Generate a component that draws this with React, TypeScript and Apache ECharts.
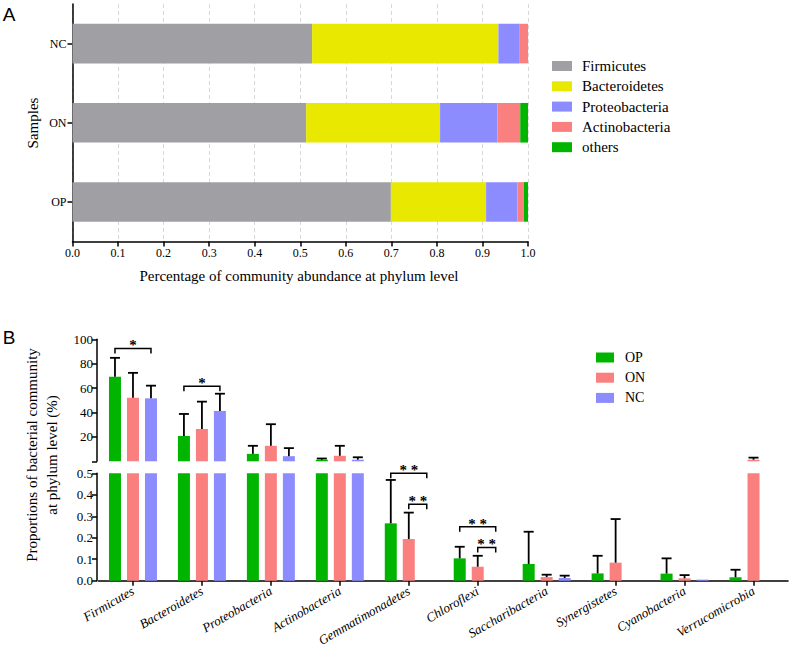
import React, { useEffect, useRef } from 'react';
import * as echarts from 'echarts';

// ---------- Panel A data ----------
const samplesA = ['OP', 'ON', 'NC']; // bottom to top
const phylaA = ['Firmicutes', 'Bacteroidetes', 'Proteobacteria', 'Actinobacteria', 'others'];
const firmicutesA = [0.699, 0.513, 0.526];
const bacteroidetesA = [0.209, 0.294, 0.409];
const proteobacteriaA = [0.069, 0.126, 0.047];
const actinobacteriaA = [0.014, 0.05, 0.018];
const othersA = [0.009, 0.017, 0.0];
const valuesA = [firmicutesA, bacteroidetesA, proteobacteriaA, actinobacteriaA, othersA];

// ---------- Panel B data (%) ----------
const phylaB = [
  'Firmicutes', 'Bacteroidetes', 'Proteobacteria', 'Actinobacteria', 'Gemmatimonadetes',
  'Chloroflexi', 'Saccharibacteria', 'Synergistetes', 'Cyanobacteria', 'Verrucomicrobia',
];
const groupsB = ['OP', 'ON', 'NC'];
const meanOP = [69.3, 20.8, 6.1, 1.3, 0.267, 0.104, 0.078, 0.034, 0.033, 0.016];
const sdOP = [15.5, 18.0, 6.6, 1.0, 0.202, 0.054, 0.15, 0.082, 0.071, 0.035];
const meanON = [52.1, 26.5, 12.7, 4.5, 0.194, 0.065, 0.017, 0.084, 0.011, 1.3];
const sdON = [20.4, 22.4, 17.7, 8.2, 0.123, 0.051, 0.011, 0.203, 0.015, 1.7];
const meanNC = [51.6, 41.3, 4.2, 1.3, 0, 0, 0.0125, 0, 0.005, 0];
const sdNC = [10.4, 14.1, 6.6, 2.0, 0, 0, 0.011, 0, 0, 0];
const meansB = [meanOP, meanON, meanNC];
const sdsB = [sdOP, sdON, sdNC];
const upperTicks = [0, 20, 40, 60, 80, 100];
const lowerTicks = [0, 0.1, 0.2, 0.3, 0.4, 0.5];
const BREAK = 0.5;

// significance annotations
const sigPhylum = [0, 1, 4, 4, 5, 5];
const sigFromGroup = [0, 0, 0, 1, 0, 1];
const sigToGroup = [2, 2, 2, 2, 2, 2];
const sigLevel = [92.5, 61.5, 0.5, 0.356, 0.251, 0.155];
const sigMark = ['*', '*', '* *', '* *', '* *', '* *'];

const colorsA = ['#a0a0a4', '#e8e800', '#8c8cff', '#fa8080', '#00b400'];
const colorsB = ['#00b400', '#fa8080', '#8c8cff'];
const SERIF = 'Liberation Serif, serif';
const SANS = 'Liberation Sans, sans-serif';
const BAR_W = 12;
const BAR_STEP = 18;

export default function App() {
  const ref = useRef<HTMLDivElement>(null);

  useEffect(() => {
    document.body.style.margin = '0';
    if (!ref.current) return;
    const chart = echarts.init(ref.current, null, { renderer: 'svg' });

    const axisLine = { show: true, lineStyle: { color: '#000', width: 1.5 } };
    const axisTick = { show: true, inside: false, length: 5, lineStyle: { color: '#000', width: 1.5 } };

    const series: any[] = [];

    // Panel A stacked bars
    phylaA.forEach((name, i) => {
      series.push({
        type: 'bar', name, stack: 'A', xAxisIndex: 0, yAxisIndex: 0,
        data: valuesA[i], barCategoryGap: '50%',
        itemStyle: { color: colorsA[i] },
      });
    });

    const errRender = (offset: number) => (params: any, api: any) => {
      const cat = api.value(0);
      const m = api.value(1);
      const s = api.value(2);
      const base = api.coord([cat, m]);
      const top = api.coord([cat, m + s]);
      const x = base[0] + offset;
      const st = { stroke: '#000', lineWidth: 1.8 };
      return {
        type: 'group',
        children: [
          { type: 'line', shape: { x1: x, y1: base[1], x2: x, y2: top[1] }, style: st },
          { type: 'line', shape: { x1: x - 5, y1: top[1], x2: x + 5, y2: top[1] }, style: st },
        ],
      };
    };

    groupsB.forEach((name, g) => {
      const means = meansB[g];
      const sds = sdsB[g];
      const offset = (g - 1) * BAR_STEP;
      series.push({
        type: 'bar', name, xAxisIndex: 1, yAxisIndex: 1, barWidth: BAR_W, barGap: '50%',
        data: means.map((v) => (v > BREAK ? v : '-')), itemStyle: { color: colorsB[g] }, clip: true,
      });
      series.push({
        type: 'bar', name, xAxisIndex: 2, yAxisIndex: 2, barWidth: BAR_W, barGap: '50%',
        data: means, itemStyle: { color: colorsB[g] }, clip: true,
      });
      series.push({
        type: 'custom', xAxisIndex: 1, yAxisIndex: 1, z: 5, renderItem: errRender(offset),
        data: means.map((m, i) => [i, m, sds[i]]).filter((d) => d[1] > BREAK && d[2] > 0),
      });
      series.push({
        type: 'custom', xAxisIndex: 2, yAxisIndex: 2, z: 5, renderItem: errRender(offset),
        data: means.map((m, i) => [i, m, sds[i]]).filter((d) => d[1] <= BREAK && d[2] > 0),
      });
    });

    const sigIdx = sigLevel.map((_, i) => i);
    const sigRender = (list: number[]) => (params: any, api: any) => {
      const k = list[params.dataIndex];
      const p = api.coord([sigPhylum[k], sigLevel[k]]);
      const x1 = p[0] + (sigFromGroup[k] - 1) * BAR_STEP;
      const x2 = p[0] + (sigToGroup[k] - 1) * BAR_STEP;
      const y = p[1];
      return {
        type: 'polyline',
        shape: { points: [[x1, y + 5], [x1, y], [x2, y], [x2, y + 5]] },
        style: { stroke: '#000', lineWidth: 1.5, fill: null },
      };
    };
    const upperSig = sigIdx.filter((i) => sigLevel[i] > BREAK);
    const lowerSig = sigIdx.filter((i) => sigLevel[i] <= BREAK);
    series.push({
      type: 'custom', xAxisIndex: 1, yAxisIndex: 1, z: 6, renderItem: sigRender(upperSig),
      data: upperSig.map((i) => [sigPhylum[i], sigLevel[i]]),
    });
    series.push({
      type: 'custom', xAxisIndex: 2, yAxisIndex: 2, z: 6, renderItem: sigRender(lowerSig),
      data: lowerSig.map((i) => [sigPhylum[i], sigLevel[i]]),
    });

    const titleText = (text: string, x: number, y: number, size: number, rot = 0, family = SERIF, weight = 'normal') => ({
      type: 'text', x, y, rotation: rot,
      style: {
        text, font: `${weight} ${size}px ${family}`, fill: '#000',
        align: 'center', verticalAlign: 'middle', textAlign: 'center', textVerticalAlign: 'middle',
      },
    });

    chart.setOption({
      animation: false,
      backgroundColor: '#fff',
      grid: [
        { left: 72.5, top: 4, width: 455.5, height: 237.5 },
        { left: 98.5, top: 339.3, width: 689.5, height: 122 },
        { left: 98.5, top: 473.3, width: 689.5, height: 107.4 },
      ],
      xAxis: [
        {
          type: 'value', gridIndex: 0, min: 0, max: 1, interval: 0.1,
          axisLine, axisTick,
          axisLabel: { color: '#000', fontFamily: SERIF, fontSize: 12, margin: 5, formatter: (v: number) => v.toFixed(1) },
          splitLine: { show: true, lineStyle: { color: '#d8d8d8', type: [4, 3], width: 1 } },
        },
        { type: 'category', gridIndex: 1, data: phylaB, show: false },
        {
          type: 'category', gridIndex: 2, data: phylaB,
          axisLine, axisTick: { ...axisTick, alignWithLabel: true },
          axisLabel: {
            color: '#000', fontFamily: SERIF, fontSize: 13, fontStyle: 'italic', rotate: 30, margin: 9, interval: 0,
          },
        },
      ],
      yAxis: [
        {
          type: 'category', gridIndex: 0, data: samplesA,
          axisLine, axisTick: { ...axisTick, alignWithLabel: true },
          axisLabel: { color: '#000', fontFamily: SERIF, fontSize: 12, margin: 6 },
        },
        {
          type: 'value', gridIndex: 1, min: upperTicks[0], max: upperTicks[upperTicks.length - 1], interval: 20,
          offset: 1.5, axisLine, axisTick, splitLine: { show: false },
          axisLabel: { color: '#000', fontFamily: SERIF, fontSize: 13, margin: 4, formatter: (v: number) => (v === 0 ? '' : String(v)) },
        },
        {
          type: 'value', gridIndex: 2, min: lowerTicks[0], max: lowerTicks[lowerTicks.length - 1], interval: 0.1,
          offset: 1.5, axisLine, axisTick, splitLine: { show: false },
          axisLabel: { color: '#000', fontFamily: SERIF, fontSize: 13, margin: 4, formatter: (v: number) => v.toFixed(1) },
        },
      ],
      legend: [
        {
          data: phylaA, orient: 'vertical', left: 552, top: 58.5, padding: 0, itemWidth: 20, itemHeight: 10, itemGap: 5.3,
          icon: 'rect', selectedMode: false,
          textStyle: { color: '#000', fontFamily: SERIF, fontSize: 15, padding: [0, 0, 0, 5] },
        },
        {
          data: groupsB, orient: 'vertical', left: 596, top: 350.5, padding: 0, itemWidth: 18, itemHeight: 10, itemGap: 6.2,
          icon: 'rect', selectedMode: false,
          textStyle: { color: '#000', fontFamily: SERIF, fontSize: 14, padding: [0, 0, 0, 6] },
        },
      ],
      series,
    });

    // significance stars, placed through the axes' own scales
    const stars = sigIdx.map((k) => {
      const gi = sigLevel[k] > BREAK ? 1 : 2;
      const p = chart.convertToPixel({ xAxisIndex: gi, yAxisIndex: gi } as any, [sigPhylum[k], sigLevel[k]]) as number[];
      const x1 = p[0] + (sigFromGroup[k] - 1) * BAR_STEP;
      const x2 = p[0] + (sigToGroup[k] - 1) * BAR_STEP;
      return titleText(sigMark[k], (x1 + x2) / 2, p[1] - 3, 15, 0, SERIF, 'bold');
    });

    chart.setOption({
      graphic: [
        titleText('A', 9, 14, 19, 0, SANS),
        titleText('B', 9, 337, 19, 0, SANS),
        titleText('Samples', 32.5, 123, 15, Math.PI / 2),
        titleText('Percentage of community abundance at phylum level', 299, 276, 15),
        titleText('Proportions of bacterial community', 32, 455, 15, Math.PI / 2),
        titleText('at phylum level (%)', 52, 455, 15, Math.PI / 2),
        ...stars,
      ],
    });

    return () => chart.dispose();
  }, []);

  return <div ref={ref} style={{ width: 793, height: 654 }} />;
}
